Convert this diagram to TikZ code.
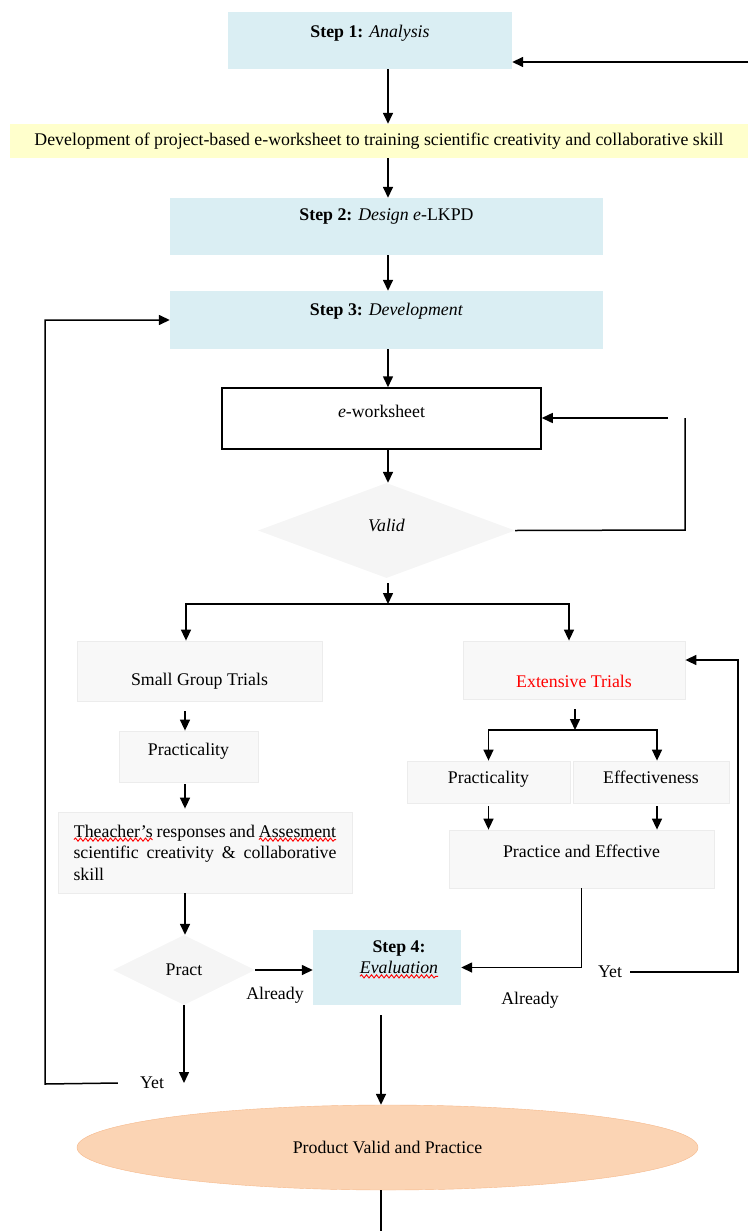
\documentclass[tikz,border=0pt]{standalone}
\usepackage{fontspec}
\setmainfont{Liberation Serif}
\usepackage{tikz}
\usetikzlibrary{arrows.meta,shapes.geometric,decorations.pathmorphing}

\definecolor{stepblue}{HTML}{DAEEF3}
\definecolor{devyellow}{HTML}{FFFFCC}
\definecolor{trialgrey}{HTML}{F8F8F8}
\definecolor{trialline}{HTML}{ECECEC}
\definecolor{decgrey}{HTML}{F5F5F5}
\definecolor{prodfill}{HTML}{FBD4B4}
\definecolor{prodline}{HTML}{F6B88A}

% red wavy spell-check line under a word
\newcommand\spellwave[1]{\tikz[baseline=(sw.base)]{\node[shape=rectangle, inner sep=0pt, outer sep=0pt,
        minimum size=0pt, text width=, align=center, draw=none, fill=none] (sw) {#1};
    \draw[red, line width=0.9pt, decorate, decoration={snake, amplitude=1.6pt, segment length=5pt}]
        ([yshift=-2.5pt]sw.base west) -- ([yshift=-2.5pt]sw.base east);}}

\begin{document}
\begin{tikzpicture}[x=1pt, y=-1pt, >={Triangle[length=11pt,width=10pt]},
    every node/.style={font=\fontsize{17.8}{21.5}\selectfont, inner sep=0pt},
    stepbox/.style={rectangle, fill=stepblue},
    trialbox/.style={rectangle, fill=trialgrey, draw=trialline, line width=0.8pt},
    decision/.style={diamond, fill=decgrey},
    arr/.style={->, line width=1.5pt}]
    \useasboundingbox (0,0) rectangle (748,1231);
    % Steps
    \node[stepbox, minimum width=284, minimum height=57,
        label={[yshift=7pt]center:{\textbf{Step 1:} \textit{Analysis}}}] (step1) at (370,40.5) {};
    \node[fill=devyellow, minimum width=738, minimum height=34] (dev) at (379,141)
        {Development of project-based e-worksheet to training scientific creativity and collaborative skill};
    \node[stepbox, minimum width=433, minimum height=57,
        label={[yshift=9.5pt]center:{\textbf{Step 2:} \textit{Design e}-LKPD}}] (step2) at (386.5,226.5) {};
    \node[stepbox, minimum width=433, minimum height=58,
        label={[yshift=8.5pt]center:{\textbf{Step 3:} \textit{Development}}}] (step3) at (386.5,320) {};
    \node[draw, line width=1.5pt, fill=white, minimum width=319, minimum height=61,
        label={[yshift=7.5pt]center:{\textit{e}-worksheet}}] (ews) at (381.5,418.5) {};
    \node[decision, minimum width=257, minimum height=95,
        label={[yshift=5.5pt]center:{\textit{Valid}}}] (valid) at (386.5,530.5) {};
    % Trials
    \node[trialbox, minimum width=245, minimum height=60,
        label={[yshift=-10pt]center:{Small Group Trials}}] (sgt) at (199.5,671) {};
    \node[trialbox, minimum width=222, minimum height=58,
        label={[yshift=-11pt]center:{\color{red}Extensive Trials}}] (ext) at (574,670) {};
    \node[trialbox, minimum width=139, minimum height=51,
        label={[yshift=5pt]center:{Practicality}}] (pracL) at (188.5,756.5) {};
    \node[trialbox, minimum width=294, minimum height=81, text width=263, align=justify] (teach) at (205,852.5)
        {\spellwave{Theacher's} responses and \spellwave{Assesment}\linebreak scientific creativity \& collaborative\linebreak skill};
    \node[decision, minimum width=142, minimum height=70] (pract) at (184,970) {Pract};
    \node[trialbox, minimum width=163, minimum height=42,
        label={[yshift=3pt]center:{Practicality}}] (pracR) at (488.5,782) {};
    \node[trialbox, minimum width=156, minimum height=42,
        label={[yshift=5pt]center:{Effectiveness}}] (effect) at (651,782) {};
    \node[trialbox, minimum width=265, minimum height=58,
        label={[yshift=8pt]center:{Practice and Effective}}] (pae) at (581.5,859) {};
    \node[stepbox, minimum width=148, minimum height=75,
        label={[xshift=12pt, yshift=8pt, align=center]center:{\textbf{Step 4:}\\\textit{\spellwave{Evaluation}}}}] (step4) at (387,967.5) {};
    \node[ellipse, fill=prodfill, draw=prodline, minimum width=621, minimum height=85] (prod) at (387.5,1147.5)
        {Product Valid and Practice};
    % Answers
    \node (alrL) at (275,995) {Already};
    \node (alrR) at (530,1000) {Already};
    \node (yetL) at (152,1083) {Yet};
    \node (yetR) at (610,972) {Yet};
    \coordinate (mid) at (388,0);
    \coordinate (colL) at (185,0);
    \coordinate (inR) at (748,62);
    \coordinate (split) at (388,604);
    \coordinate (split2) at (575,730);
    \coordinate (railL) at (45,1084);
    \coordinate (railR) at (738,972);
    \coordinate (railV) at (685,530);
    \coordinate (loopin) at (668,418);
    \coordinate (outB) at (381,1231);
    % Main column
    \foreach \a/\b in {step1/dev, dev/step2, step2/step3, step3/ews, ews/valid}
        \draw[arr] (mid |- \a.south) -- (mid |- \b.north);
    \draw[arr] (inR) -- (inR -| step1.east);
    \draw[line width=1.5pt] (valid.east) -- (railV) -- (railV |- loopin);
    \draw[arr] (loopin) -- (loopin -| ews.east);
    \draw[arr, shorten <=5pt] (split |- valid.south) -- (split);
    \draw[arr] (split) -| ([xshift=-13.5pt]sgt.north);
    \draw[arr] (split) -| ([xshift=-5pt]ext.north);
    % Small group column
    \draw[arr, shorten <=10pt] (colL |- sgt.south) -- (colL |- pracL.north);
    \draw[arr, shorten <=2pt, shorten >=3pt] (colL |- pracL.south) -- (colL |- teach.north);
    \draw[arr] (colL |- teach.south) -- (colL |- pract.north);
    \draw[arr] (pract.east) -- (pract.east -| step4.west);
    \draw[arr] (pract.south) -- (pract.south |- yetL);
    \draw[arr] ([xshift=-22pt]yetL.west) -- (railL) |- (step3.west);
    % Extensive column
    \draw[arr, shorten <=10pt] (split2 |- ext.south) -- (split2);
    \draw[arr] (split2) -| (pracR.north);
    \draw[arr] (split2) -| ([xshift=6pt]effect.north);
    \draw[arr, shorten <=3pt] (pracR.south) -- (pracR.south |- pae.north);
    \draw[arr, shorten <=3pt] ([xshift=6pt]effect.south) -- ([xshift=6pt]effect.south |- pae.north);
    \draw[arr] (pae.south) |- (step4.east);
    \draw[arr] ([xshift=8pt]yetR.east) -- (railR) |- ([yshift=10pt]ext.east);
    % Evaluation to product
    \draw[arr, shorten <=10pt] ([xshift=-6pt]step4.south) -- ([xshift=-6pt]step4.south |- prod.north);
    \draw[line width=1.5pt] (prod.south -| outB) -- (outB);
\end{tikzpicture}
\end{document}
